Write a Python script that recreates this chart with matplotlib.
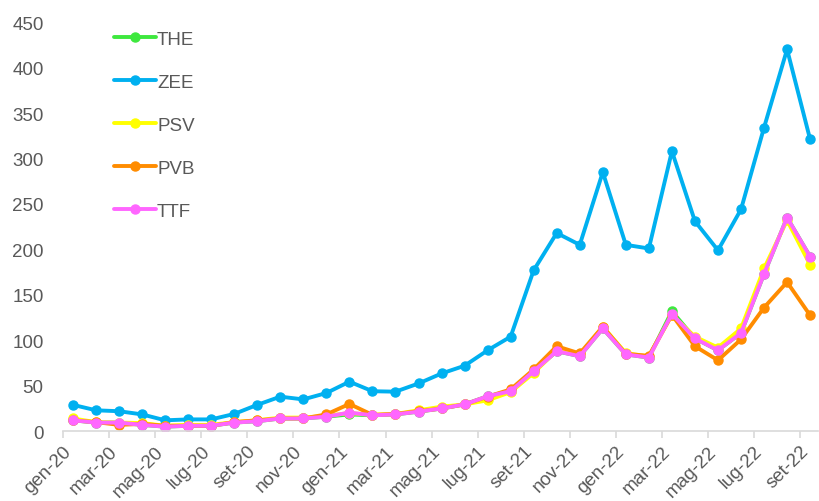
import numpy as np
import matplotlib.pyplot as plt

plt.rcParams['font.family'] = ['Liberation Sans', 'DejaVu Sans']

# monthly series gen-20 .. set-22
months = ['gen', 'feb', 'mar', 'apr', 'mag', 'giu', 'lug', 'ago', 'set', 'ott', 'nov', 'dic']
labels = [f"{m}-{y}" for y in (20, 21, 22) for m in months][:33]

zee = [29, 23, 22, 18.5, 12, 13, 13, 19, 29, 38, 35, 42,
       54.5, 44, 43.5, 52.5, 63.5, 72, 89, 104, 177, 218, 205, 285,
       205, 201, 308, 231, 199, 244, 334, 420, 321]
ttf = [12, 9.5, 9.5, 7, 5, 6, 6, 9.5, 11, 14, 14, 16,
       20.5, 17.5, 18.5, 21.5, 25, 29.5, 38.5, 44, 66, 88, 82.5, 113,
       84.5, 81, 129, 102, 89, 108, 173, 235, 192]
the = [12, 9.5, 9.5, 7, 5, 6, 6, 9.5, 11, 14, 14, 16,
       18.5, 17.5, 18.5, 21.5, 25, 29.5, 38.5, 44, 66, 88, 82.5, 113,
       84.5, 81, 132, 102, 89, 108, 173, 235, 192]
psv = [14, 10, 9.5, 9, 6, 7, 7, 10, 12, 15, 15, 17,
       20, 18, 19, 23, 27, 29.5, 34, 43, 64, 89, 84, 115,
       86, 82, 128, 104, 92, 113, 179, 232, 183]
pvb = [12, 10, 7, 8, 6, 6, 6, 10, 12, 14, 14, 18.5,
       30, 18, 19, 22, 25, 29.5, 38, 46, 68, 93.5, 85.5, 115,
       85, 83, 128, 93.5, 78, 101, 136, 164, 127.5]

series = [('THE', the, '#3ee83e'), ('ZEE', zee, '#00b0f0'), ('PSV', psv, '#ffff00'),
          ('PVB', pvb, '#ff8c00'), ('TTF', ttf, '#ff66ff')]

x = np.arange(len(labels))

fig = plt.figure(figsize=(8.19, 5.02), dpi=100)
ax = fig.add_axes([0.077, 0.139, 0.922, 0.815])

for name, vals, col in series:
    ax.plot(x, vals, color=col, lw=2.8, marker='o', ms=6.5, label=name,
            solid_joinstyle='round', solid_capstyle='round')

ax.set_ylim(0, 450)
ax.set_yticks(np.arange(0, 451, 50))
ax.set_xlim(-0.37, 32.35)
ax.set_xticks(x[::2] - 0.43)
ax.set_xticklabels(labels[::2], rotation=45, ha='right', rotation_mode='anchor')

for s in ['top', 'right', 'left']:
    ax.spines[s].set_visible(False)
ax.spines['bottom'].set_color('#d9d9d9')
ax.spines['bottom'].set_linewidth(1.2)
ax.tick_params(axis='y', length=0, labelsize=13.5, labelcolor='#595959', pad=14)
ax.tick_params(axis='x', length=5, color='#d9d9d9', width=1.2,
               labelsize=13.5, labelcolor='#595959', pad=3)

leg = ax.legend(loc='upper left', bbox_to_anchor=(0.045, 1.02), frameon=False,
                handlelength=2.25, handletextpad=0.05, labelspacing=1.38, numpoints=1,
                fontsize=13.5)
for t in leg.get_texts():
    t.set_color('#595959')

fig.savefig('out.png', dpi=100)
